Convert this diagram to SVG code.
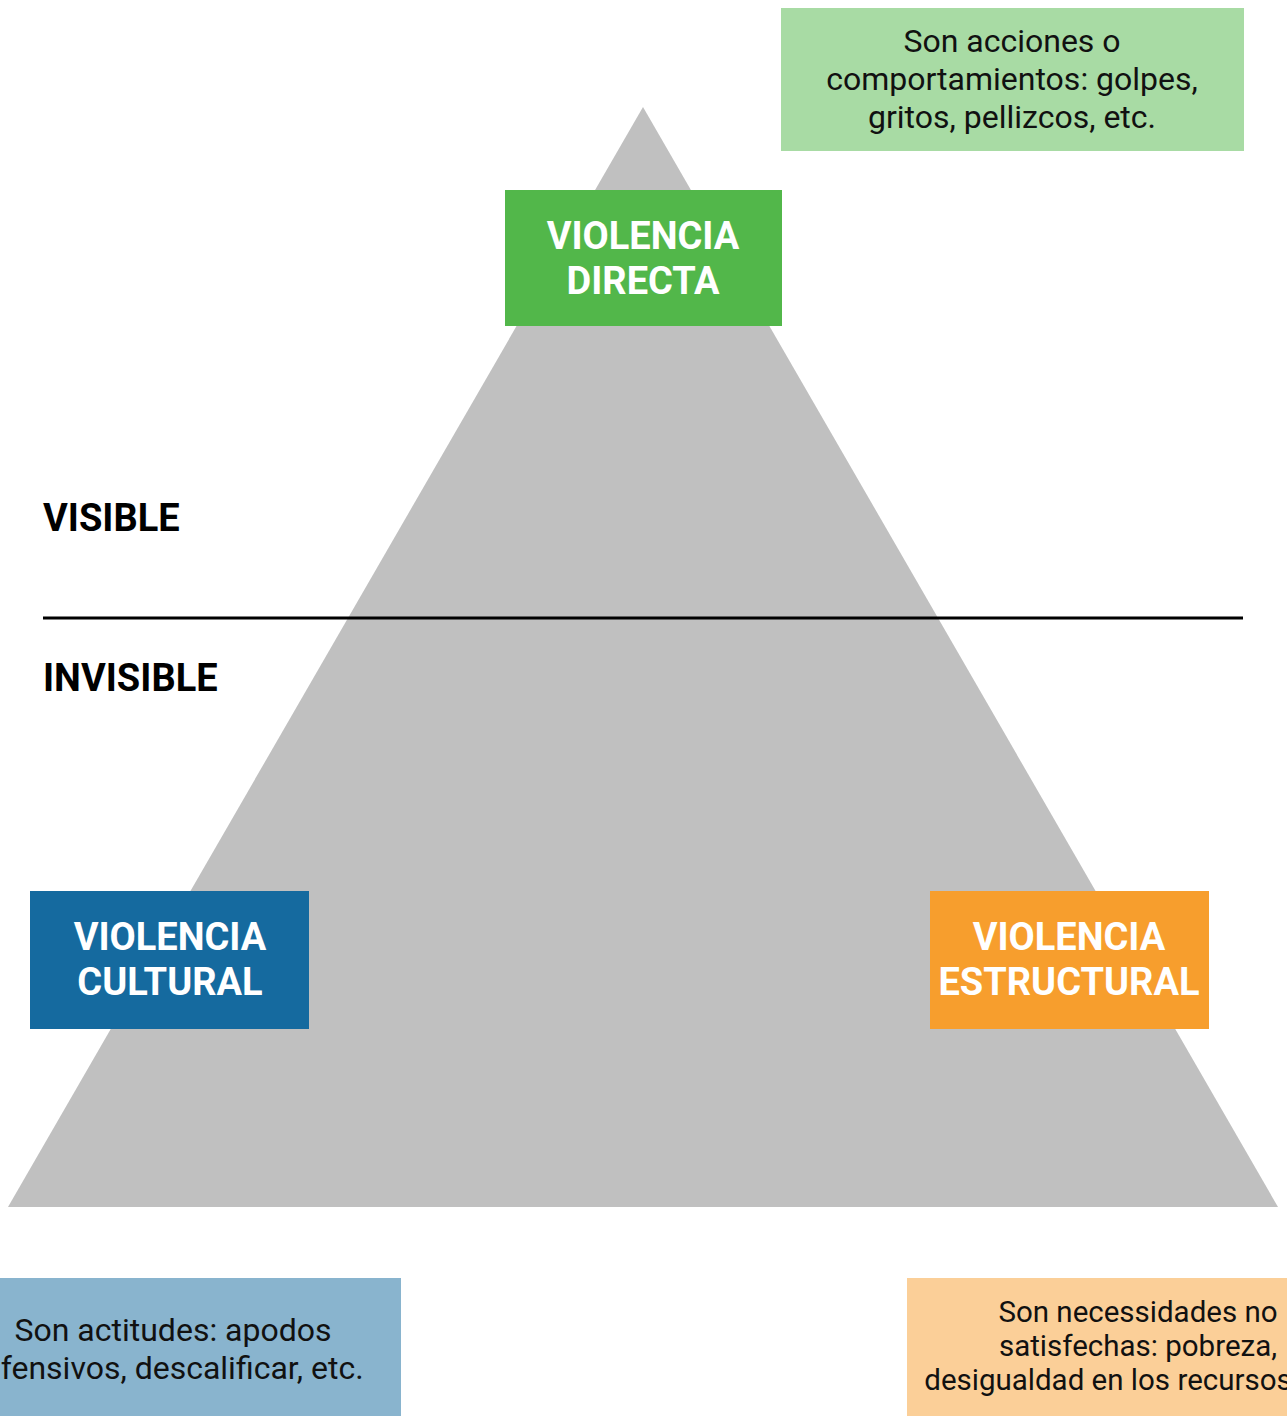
<svg xmlns="http://www.w3.org/2000/svg" width="1287" height="1416" viewBox="0 0 1287 1416">
<style>
.t{font-family:Roboto,"Liberation Sans",sans-serif;font-size:32px;fill:#111;text-anchor:middle}
.s{font-size:29.5px}
.b{font-family:Roboto,"Liberation Sans",sans-serif;font-size:38px;font-weight:bold;fill:#fff;text-anchor:middle}
.k{font-family:Roboto,"Liberation Sans",sans-serif;font-size:38px;font-weight:bold;fill:#000}
</style>
<rect width="1287" height="1416" fill="#fff"/>
<g id="pyramid"><polygon points="643,107 8,1207 1278,1207" fill="#c0c0c0"/></g>
<g id="connectors"><line x1="43" y1="618" x2="1243" y2="618" stroke="#000" stroke-width="3"/></g>
<g id="visible"><text class="k" x="43" y="531">VISIBLE</text></g>
<g id="invisible"><text class="k" x="43" y="691">INVISIBLE</text></g>
<g id="directa"><rect x="505" y="190" width="277" height="136" fill="#52b74a"/>
<text class="b" x="643" y="249">VIOLENCIA</text><text class="b" x="643" y="294">DIRECTA</text></g>
<g id="cultural"><rect x="30" y="891" width="279" height="138" fill="#156a9f"/>
<text class="b" x="170" y="950">VIOLENCIA</text><text class="b" x="170" y="995">CULTURAL</text></g>
<g id="estructural"><rect x="930" y="891" width="279" height="138" fill="#f79e2d"/>
<text class="b" x="1069" y="950">VIOLENCIA</text><text class="b" x="1069" y="995">ESTRUCTURAL</text></g>
<g id="desc-directa"><rect x="781" y="8" width="463" height="143" fill="#a8dba4"/>
<text class="t" x="1012" y="52">Son acciones o</text><text class="t" x="1012" y="90">comportamientos: golpes,</text><text class="t" x="1012" y="128">gritos, pellizcos, etc.</text></g>
<g id="desc-cultural"><rect x="0" y="1278" width="401" height="138" fill="#89b4ce"/>
<text class="t" x="173" y="1341">Son actitudes: apodos</text><text class="t" x="173" y="1379">ofensivos, descalificar, etc.</text></g>
<g id="desc-estructural"><rect x="907" y="1278" width="380" height="138" fill="#fbcf98"/>
<text class="t s" x="1138" y="1322">Son necessidades no</text><text class="t s" x="1138" y="1356">satisfechas: pobreza,</text><text class="t s" x="1108" y="1390">desigualdad en los recursos</text></g>
</svg>
